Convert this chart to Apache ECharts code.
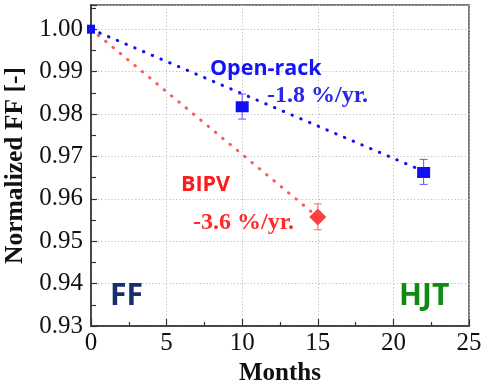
<!DOCTYPE html>
<html>
<head>
<meta charset="utf-8">
<script src="https://cdn.jsdelivr.net/npm/echarts@6/dist/echarts.min.js"></script>
<style>
  html, body { margin: 0; padding: 0; background: #fff; }
  #chart { width: 485px; height: 382px; }
</style>
</head>
<body>
<div id="chart"></div>
<script>
// Normalized fill factor vs. exposure time, open-rack vs. BIPV mounting
const yTicks = [0.93, 0.94, 0.95, 0.96, 0.97, 0.98, 0.99, 1.00];
const xTicks = [0, 5, 10, 15, 20, 25];

// Open-rack measurements
const openRackMonths = [0, 10, 22];
const openRackFF = [1.000, 0.9817, 0.9662];
const openRackLow = [1.000, 0.9788, 0.9634];
const openRackHigh = [1.000, 0.9847, 0.9693];

// BIPV measurements
const bipvMonths = [0, 15];
const bipvFF = [1.000, 0.9557];
const bipvLow = [1.000, 0.9527];
const bipvHigh = [1.000, 0.9588];

// Linear degradation fits (start/end points)
const openRackFitMonths = [0, 22];
const openRackFitFF = [1.000, 0.9665];
const bipvFitMonths = [0, 15];
const bipvFitFF = [1.000, 0.9557];

const BLUE = '#1010f0';
const RED = '#ff4040';

const pairs = (xs, ys) => xs.map((x, i) => [x, ys[i]]);
const triples = (xs, lo, hi) => xs.map((x, i) => [x, lo[i], hi[i]]).filter(d => d[1] !== d[2]);

function errorBar(color) {
  return function (params, api) {
    const x = api.value(0);
    const pLo = api.coord([x, api.value(1)]);
    const pHi = api.coord([x, api.value(2)]);
    const hw = 4;
    const style = { stroke: color, lineWidth: 1 };
    return {
      type: 'group',
      children: [
        { type: 'line', shape: { x1: pLo[0], y1: pLo[1], x2: pHi[0], y2: pHi[1] }, style },
        { type: 'line', shape: { x1: pLo[0] - hw, y1: pLo[1], x2: pLo[0] + hw, y2: pLo[1] }, style },
        { type: 'line', shape: { x1: pHi[0] - hw, y1: pHi[1], x2: pHi[0] + hw, y2: pHi[1] }, style }
      ]
    };
  };
}

const SERIF = 'Liberation Serif';
const SANS = 'Open Sans';
const gridDots = { show: true, lineStyle: { color: '#bdbdbd', width: 1, type: [1.2, 2.2] } };

const chart = echarts.init(document.getElementById('chart'), null, { renderer: 'canvas' });

chart.setOption({
  animation: false,
  backgroundColor: '#fff',
  grid: {
    left: 91, right: 16, top: 5, bottom: 56,
    outerBoundsMode: 'none', containLabel: false,
    show: true, borderColor: '#7a7a7a', borderWidth: 2, backgroundColor: 'transparent'
  },
  xAxis: {
    type: 'value',
    min: xTicks[0], max: xTicks[xTicks.length - 1], interval: 5,
    name: 'Months', nameLocation: 'middle', nameGap: 30,
    nameTextStyle: { fontFamily: SERIF, fontWeight: 'bold', fontSize: 25, color: '#111' },
    axisLine: { show: true, lineStyle: { color: '#333', width: 1.5 } },
    axisTick: { show: true, inside: true, length: 7, lineStyle: { color: '#333', width: 1.2 } },
    minorTick: { show: true, splitNumber: 2, length: 4, lineStyle: { color: '#333', width: 1.2 } },
    axisLabel: { fontFamily: SERIF, fontSize: 25, color: '#111', margin: 5 },
    splitLine: gridDots
  },
  yAxis: {
    type: 'value',
    min: yTicks[0], max: 1.0057, interval: 0.01,
    name: 'Normalized FF [-]', nameLocation: 'middle', nameGap: 61, nameRotate: 90,
    nameTextStyle: { fontFamily: SERIF, fontWeight: 'bold', fontSize: 25.5, color: '#111' },
    axisLine: { show: true, lineStyle: { color: '#333', width: 1.5 } },
    axisTick: { show: true, inside: true, length: 6, lineStyle: { color: '#333', width: 1.2 } },
    minorTick: { show: true, splitNumber: 2, length: 5, lineStyle: { color: '#333', width: 1.2 } },
    axisLabel: {
      fontFamily: SERIF, fontSize: 25, color: '#111', margin: 8,
      formatter: v => (yTicks.some(t => Math.abs(t - v) < 1e-6) ? v.toFixed(2) : '')
    },
    splitLine: gridDots
  },
  series: [
    {
      name: 'BIPV fit', type: 'line', z: 3,
      data: pairs(bipvFitMonths, bipvFitFF),
      symbol: 'none',
      lineStyle: { color: '#ff5a5a', width: 3, type: [0.5, 9], cap: 'round' }
    },
    {
      name: 'Open-rack fit', type: 'line', z: 3,
      data: pairs(openRackFitMonths, openRackFitFF),
      symbol: 'none',
      lineStyle: { color: BLUE, width: 3, type: [0.5, 9], cap: 'round' }
    },
    {
      name: 'BIPV error', type: 'custom', z: 4,
      renderItem: errorBar('#ff6a6a'),
      data: triples(bipvMonths, bipvLow, bipvHigh)
    },
    {
      name: 'Open-rack error', type: 'custom', z: 4,
      renderItem: errorBar('#5a5af0'),
      data: triples(openRackMonths, openRackLow, openRackHigh)
    },
    {
      name: 'BIPV', type: 'scatter', z: 5, clip: false,
      data: pairs(bipvMonths, bipvFF),
      symbol: 'diamond',
      symbolSize: (v, p) => (p.dataIndex === 0 ? [6, 8] : [17, 17]),
      itemStyle: { color: RED, opacity: 1 }
    },
    {
      name: 'Open-rack', type: 'scatter', z: 6, clip: false,
      data: pairs(openRackMonths, openRackFF),
      symbol: 'rect',
      symbolSize: (v, p) => (p.dataIndex === 0 ? [8, 9] : [13, 11]),
      itemStyle: { color: BLUE, opacity: 1 }
    }
  ],
  graphic: [
    { type: 'text', left: 210, top: 58, z: 10,
      style: { text: 'Open-rack', fill: '#1414f5', fontFamily: SANS, fontWeight: 'bold', fontSize: 21.5 } },
    { type: 'text', left: 267, top: 84, z: 10,
      style: { text: '-1.8 %/yr.', fill: '#2828e6', fontFamily: SERIF, fontWeight: 'bold', fontSize: 24 } },
    { type: 'text', left: 181, top: 174, z: 10,
      style: { text: 'BIPV', fill: '#ff1a1a', fontFamily: SANS, fontWeight: 'bold', fontSize: 21.5 } },
    { type: 'text', left: 193, top: 211, z: 10,
      style: { text: '-3.6 %/yr.', fill: '#ff2a2a', fontFamily: SERIF, fontWeight: 'bold', fontSize: 24 } },
    { type: 'text', left: 110, top: 281, z: 10,
      style: { text: 'FF', fill: '#15306c', fontFamily: SANS, fontWeight: 'bold', fontSize: 30 } },
    { type: 'text', left: 399, top: 281, z: 10,
      style: { text: 'HJT', fill: '#128a12', fontFamily: SANS, fontWeight: 'bold', fontSize: 30 } }
  ]
});
</script>
</body>
</html>
